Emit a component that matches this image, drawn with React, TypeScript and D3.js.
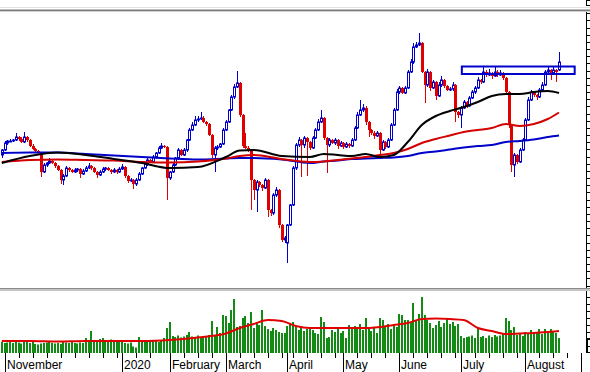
import * as d3 from "d3";

// daily candles, price units (unlabelled axis in the source)
const opens = [14.5,15.0,15.7,15.9,15.9,16.0,16.3,16.1,15.8,16.3,
16.0,15.4,15.1,14.9,14.7,12.8,13.5,13.7,13.9,13.7,
13.4,13.0,12.0,12.4,13.2,13.0,12.8,13.0,13.1,12.6,
12.9,13.2,13.4,13.2,12.8,12.5,12.8,13.1,13.2,13.0,
12.8,13.0,12.8,13.1,13.3,12.4,11.9,12.0,11.6,12.0,
12.6,13.2,13.6,14.0,13.8,14.3,14.7,15.2,15.4,15.3,
12.2,12.8,13.5,14.2,15.0,14.5,15.0,16.0,17.0,17.5,
18.0,18.1,18.2,17.8,17.6,16.5,14.5,15.2,15.3,15.6,
17.0,17.8,19.0,20.3,21.3,21.7,18.5,15.4,15.2,15.0,
12.0,11.0,11.8,11.5,11.2,12.0,9.0,8.7,10.5,11.0,
7.5,6.0,5.7,7.5,9.5,13.2,15.5,16.0,15.5,16.2,
15.8,15.2,16.2,17.0,17.8,18.2,16.2,15.5,16.0,15.7,
16.0,15.4,15.7,15.3,15.6,15.4,16.0,17.2,18.5,19.0,
19.2,17.8,17.0,16.7,16.4,16.7,15.0,15.8,15.3,16.0,
17.5,19.0,20.8,21.2,20.7,21.2,22.8,23.8,25.3,25.5,
25.7,22.8,21.5,22.8,21.2,21.8,20.4,21.5,22.0,21.4,
21.0,21.1,21.5,18.8,18.5,19.2,19.8,19.4,20.2,20.8,
21.2,22.0,21.8,22.8,22.5,22.7,22.4,22.8,22.5,22.7,
22.2,20.8,17.5,13.5,14.5,13.8,15.0,16.0,18.0,20.0,
20.8,20.5,20.3,21.0,21.5,22.8,23.0,22.7,23.0,23.0];

const closes = [15.0,15.7,15.9,15.9,16.0,16.3,16.1,15.8,16.3,16.0,
15.4,15.1,14.9,14.7,12.8,13.5,13.7,13.9,13.7,13.4,
13.0,12.0,12.4,13.2,13.0,12.8,13.0,13.1,12.6,12.9,
13.2,13.4,13.2,12.8,12.5,12.8,13.1,13.2,13.0,12.8,
13.0,12.8,13.1,13.3,12.4,11.9,12.0,11.6,12.0,12.6,
13.2,13.6,14.0,13.8,14.3,14.7,15.2,15.4,15.3,12.2,
12.8,13.5,14.2,15.0,14.5,15.0,16.0,17.0,17.5,18.0,
18.1,18.2,17.8,17.6,16.5,14.5,15.2,15.3,15.6,17.0,
17.8,19.0,20.3,21.3,21.7,18.5,15.4,15.2,15.0,12.0,
11.0,11.8,11.5,11.2,12.0,9.0,8.7,10.5,11.0,7.5,
6.0,6.2,7.5,9.5,13.2,15.5,16.0,15.5,16.2,15.8,
15.2,16.2,17.0,17.8,18.2,16.2,15.5,16.0,15.7,16.0,
15.4,15.7,15.3,15.6,15.4,16.0,17.2,18.5,19.0,19.2,
17.8,17.0,16.7,16.4,16.7,15.0,15.8,15.3,16.0,17.5,
19.0,20.8,21.2,20.7,21.2,22.8,23.8,25.3,25.5,25.7,
22.8,21.5,22.8,21.2,21.8,20.4,21.5,22.0,21.4,21.0,
21.1,21.5,18.8,18.5,19.2,19.8,19.4,20.2,20.8,21.2,
22.0,21.8,22.8,22.5,22.7,22.4,22.8,22.5,22.7,22.2,
20.8,17.5,13.5,14.5,13.8,15.0,16.0,18.0,20.0,20.8,
20.5,20.3,21.0,21.5,22.8,23.0,22.7,23.0,22.8,23.8];

// wick length above / below the body
const upperWick = [0.1,0.2,0.1,0.2,0.1,0.4,0.1,0.2,0.5,0.1,
0.1,0.2,0.1,0.1,0.1,0.2,0.1,0.3,0.1,0.1,
0.1,0.1,0.2,0.2,0.1,0.1,0.2,0.1,0.1,0.2,
0.2,0.3,0.1,0.1,0.1,0.2,0.2,0.1,0.1,0.1,
0.2,0.1,0.2,0.3,0.1,0.1,0.2,0.1,0.2,0.2,
0.1,0.2,0.2,0.1,0.2,0.1,0.2,0.3,0.1,0.1,
0.1,0.2,0.1,0.2,0.1,0.2,0.1,0.2,0.3,0.4,
0.3,0.6,0.2,0.1,0.1,0.1,0.2,0.2,0.1,0.2,
0.2,0.1,0.2,0.3,1.2,0.1,0.1,1.3,0.2,0.1,
0.1,0.2,0.1,0.1,0.2,0.1,0.1,0.2,0.3,0.1,
0.1,0.2,0.1,0.1,0.2,0.2,0.3,0.1,0.2,0.1,
0.1,0.2,0.2,0.3,0.8,0.1,0.1,0.2,0.1,0.2,
0.1,0.2,0.1,0.2,0.1,0.2,0.2,0.3,1.0,0.4,
0.2,0.1,0.1,0.2,0.2,0.1,0.2,0.1,0.2,0.2,
0.2,0.3,0.2,0.1,0.2,0.2,0.3,0.4,0.3,1.0,
0.1,0.1,0.3,0.1,0.2,0.1,0.3,0.4,0.1,0.1,
0.2,0.3,0.1,0.1,0.2,0.2,0.1,0.2,0.2,0.2,
0.3,0.1,0.5,0.2,0.4,0.1,0.6,0.2,0.3,0.1,
0.1,0.1,0.1,0.2,0.1,0.2,0.2,0.2,0.3,0.2,
0.1,0.1,0.2,0.3,0.2,0.3,0.1,0.3,0.1,1.0];

const lowerWick = [0.3,0.1,0.2,0.1,0.1,0.1,0.2,0.1,0.1,0.2,
0.1,0.1,0.2,0.1,0.5,0.1,0.2,0.1,0.1,0.2,
0.1,0.4,0.5,0.1,0.2,0.1,0.1,0.2,0.4,0.1,
0.1,0.1,0.2,0.1,0.3,0.1,0.1,0.2,0.1,0.2,
0.1,0.2,0.1,0.1,0.2,0.2,0.1,0.5,0.2,0.1,
0.1,0.1,0.2,0.1,0.1,0.2,0.1,0.1,0.1,2.2,
0.2,0.1,0.1,0.2,0.1,0.1,0.2,0.1,0.1,0.1,
0.2,0.1,0.1,0.2,0.1,0.3,1.7,0.2,0.1,0.1,
0.1,0.1,0.1,0.2,0.1,0.2,0.2,0.1,0.2,3.0,
1.0,2.2,0.2,0.3,0.1,0.7,0.3,0.2,0.2,0.3,
0.2,0.3,2.0,0.1,0.1,0.2,0.2,3.2,0.3,3.4,
0.2,0.1,0.1,0.1,0.1,0.2,2.8,0.2,0.1,0.2,
0.3,0.1,0.2,0.1,0.2,0.1,0.1,0.1,0.1,0.2,
0.3,0.7,0.2,0.3,0.1,0.7,0.1,0.2,0.1,0.1,
0.1,0.1,0.2,0.1,0.1,0.1,0.1,0.2,0.1,0.1,
0.1,1.8,0.2,0.3,0.1,0.4,0.1,0.2,0.2,0.1,
0.1,0.2,1.0,0.3,1.3,0.1,0.2,0.1,0.1,0.2,
0.1,0.2,0.1,0.2,0.1,0.3,0.1,0.2,0.1,0.2,
0.1,0.3,0.7,1.2,0.2,0.1,0.1,0.1,0.1,0.1,
0.2,0.3,0.1,0.1,0.1,0.2,0.7,0.1,1.0,0.1];

const volumes = [110,100,105,110,100,110,105,95,110,110,
100,110,90,85,95,100,105,110,100,95,
100,90,110,105,100,110,100,95,105,100,
150,130,220,130,120,140,150,130,120,135,
125,120,130,115,100,95,105,65,55,160,
120,110,130,115,125,120,110,125,150,250,
310,170,160,175,155,165,180,210,165,160,
175,155,170,160,180,320,170,260,200,380,
370,300,430,540,260,270,350,370,300,410,
250,310,280,430,270,240,220,250,230,210,
200,200,270,300,310,260,230,270,220,240,
250,230,200,190,360,310,150,160,230,210,
240,200,220,150,280,250,270,240,290,230,
350,240,220,260,200,350,330,260,290,240,
280,260,390,380,330,330,300,500,320,390,
560,380,330,300,250,280,320,260,300,350,
290,310,270,290,170,150,160,165,175,150,
240,160,170,150,175,160,180,165,175,190,
350,320,230,260,180,200,170,210,190,230,
200,210,240,190,240,200,240,220,200,150];

// moving averages read at these bar indices
const maIndex = [0,10,20,30,40,50,60,70,80,85,90,100,110,115,120,125,130,135,140,145,150,155,160,165,170,175,180,185,190,195,199];
const maBlack = [13.7,14.4,14.75,14.5,14.1,13.7,13.2,13.3,14.3,14.95,15.0,14.4,14.3,14.6,14.5,14.4,14.6,14.3,14.5,15.8,17.5,18.4,18.9,19.3,19.8,20.4,20.6,20.6,20.8,20.9,20.7];
const maRed = [13.8,14.0,14.05,14.0,13.95,13.8,13.75,13.85,14.15,14.4,14.5,14.1,13.8,13.85,14.0,14.15,14.3,14.5,14.7,15.1,15.7,16.1,16.45,16.8,17.0,17.2,17.6,17.4,17.6,18.1,18.75];
const maBlue = [14.7,14.75,14.75,14.6,14.45,14.3,14.15,14.05,14.15,14.2,14.2,14.05,13.7,13.85,13.95,14.1,14.15,14.2,14.25,14.4,14.7,14.85,15.05,15.25,15.4,15.5,15.8,15.9,16.05,16.3,16.45];

const volMaIndex = [0,10,20,30,40,50,60,70,80,85,90,95,100,105,110,120,130,140,145,150,155,160,165,170,175,180,185,190,195,199];
const volMa = [120,120,115,120,120,120,130,155,195,250,290,330,320,270,250,250,250,280,300,340,345,340,330,250,220,190,195,200,210,220];

// x axis
const monthStarts = [1, 43, 60, 80, 102, 122, 142, 164, 187, 207];
const monthLabels = ["November", "2020", "February", "March", "April", "May", "June", "July", "August", ""];
const weekTicks = [6,11,16,21,26,31,36,41,48,53,65,70,75,85,90,95,100,104,109,114,119,127,132,137,147,152,157,162,169,174,179,184,192,197,202];

// resistance box
const boxIndex = [164.3, 204.6];
const boxPrice = [22.6, 23.35];

const UP = "#0000cc";
const DOWN = "#e00000";
const AX = 586;

export default function App() {
  const x = d3.scaleLinear().domain([0, 199]).range([1.8, 1.8 + 2.8 * 199]);
  const y = d3.scaleLinear().domain([1.2, 29]).range([288, 10]);
  const yv = d3.scaleLinear().domain([0, 620]).range([353, 291]);

  const line = d3.line<[number, number]>()
    .x(d => x(d[0]))
    .y(d => y(d[1]))
    .curve(d3.curveMonotoneX);
  const vline = d3.line<[number, number]>()
    .x(d => x(d[0]))
    .y(d => yv(d[1]))
    .curve(d3.curveMonotoneX);
  const pts = (vals: number[], idx: number[]) => idx.map((k, j) => [k, vals[j]] as [number, number]);

  const priceTicks = d3.range(13.2, 288, 7.17);
  const volTicks = d3.range(297, 352, 7);
  const font = "'Liberation Sans', Arial, sans-serif";

  return (
    <div>
      <style>{"body{margin:0;background:#fff}"}</style>
      <svg width={590} height={372} style={{ display: "block" }}>
        <rect width={590} height={372} fill="#fff" />
        <defs>
          <clipPath id="mainClip"><rect x={0} y={12} width={AX} height={276} /></clipPath>
        </defs>

        {/* top frame */}
        <line x1={0} x2={590} y1={7.5} y2={7.5} stroke="#e2e2e2" />
        <rect x={0} y={9.5} width={590} height={1.6} fill="#7a7a7a" />
        <line x1={0} x2={590} y1={11.6} y2={11.6} stroke="#cfcfcf" />

        <g clipPath="url(#mainClip)">
          {closes.map((c, i) => {
            const o = opens[i];
            const up = c >= o;
            const px = Math.round(x(i));
            const hi = Math.max(o, c) + upperWick[i];
            const lo = Math.min(o, c) - lowerWick[i];
            const col = up ? UP : DOWN;
            const top = y(Math.max(o, c));
            const h = Math.max(Math.abs(y(o) - y(c)), 1);
            return (
              <g key={i}>
                <line x1={px + 0.5} x2={px + 0.5} y1={y(hi)} y2={y(lo)} stroke={col} strokeWidth={1} />
                {up ? (
                  <rect x={px - 0.5} y={top} width={2} height={h} fill="#fff" stroke={col} strokeWidth={1} />
                ) : (
                  <rect x={px - 1} y={top} width={3} height={h} fill={col} />
                )}
              </g>
            );
          })}
          <path d={line(pts(maBlue, maIndex)) ?? ""} fill="none" stroke="#0000c8" strokeWidth={2} />
          <path d={line(pts(maRed, maIndex)) ?? ""} fill="none" stroke="#d40000" strokeWidth={2} />
          <path d={line(pts(maBlack, maIndex)) ?? ""} fill="none" stroke="#000" strokeWidth={2} />
          <rect
            x={x(boxIndex[0])}
            y={y(boxPrice[1])}
            width={x(boxIndex[1]) - x(boxIndex[0])}
            height={y(boxPrice[0]) - y(boxPrice[1])}
            fill="none" stroke={UP} strokeWidth={2}
          />
        </g>

        {/* price axis */}
        <line x1={AX + 0.5} x2={AX + 0.5} y1={12} y2={288} stroke="#000" />
        {priceTicks.map((t, k) => (
          <line key={k} x1={AX} x2={590} y1={Math.round(t) + 0.5} y2={Math.round(t) + 0.5} stroke="#000" />
        ))}
        <rect x={AX + 0.5} y={0.5} width={4} height={5} fill="none" stroke="#000" />

        {/* panel separator */}
        <rect x={0} y={288} width={590} height={3} fill="#c4c4c4" />
        <line x1={0} x2={590} y1={288.5} y2={288.5} stroke="#8a8a8a" />

        {/* volume */}
        {volumes.map((v, i) => {
          const px = Math.round(x(i));
          return <rect key={i} x={px - 1} y={yv(v)} width={2} height={yv(0) - yv(v)} fill="#138a13" />;
        })}
        <path d={vline(pts(volMa, volMaIndex)) ?? ""} fill="none" stroke="#e00000" strokeWidth={2} />

        <line x1={AX + 0.5} x2={AX + 0.5} y1={291} y2={353} stroke="#000" />
        {volTicks.map((t, k) => (
          <line key={k} x1={AX} x2={590} y1={t + 0.5} y2={t + 0.5} stroke="#000" />
        ))}
        <rect x={AX + 1.5} y={338.5} width={3} height={14} fill="none" stroke="#000" />

        {/* time axis */}
        {weekTicks.map(k => {
          const px = Math.round(x(k)) + 0.5;
          return <line key={k} x1={px} x2={px} y1={353} y2={358} stroke="#000" />;
        })}
        {monthStarts.map((k, j) => {
          const px = Math.round(x(k)) + 0.5;
          return (
            <g key={k}>
              <line x1={px} x2={px} y1={353} y2={372} stroke="#000" />
              <text x={px + 1.5} y={369} fontFamily={font} fontSize={12} fill="#000">{monthLabels[j]}</text>
            </g>
          );
        })}
      </svg>
    </div>
  );
}
